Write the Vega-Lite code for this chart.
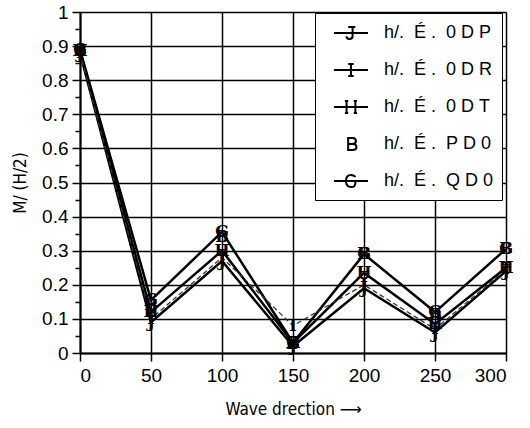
{
  "$schema": "https://vega.github.io/schema/vega-lite/v6.json",
  "autosize": "none",
  "width": 426,
  "height": 341,
  "padding": {"left": 80, "top": 12, "right": 24, "bottom": 75},
  "background": "white",
  "config": {
    "view": {"stroke": null},
    "axis": {
      "labelFont": "Liberation Sans, sans-serif",
      "labelFontSize": 19,
      "labelColor": "black",
      "domainColor": "black",
      "domainWidth": 2,
      "tickColor": "black",
      "tickWidth": 1.5,
      "tickSize": 8,
      "gridColor": "black",
      "gridWidth": 1.5,
      "gridOpacity": 1,
      "titleColor": "black",
      "titleFontWeight": "normal"
    }
  },
  "data": {
    "values": [
      {"series": "J", "x": 0, "y": 0.88}, {"series": "J", "x": 50, "y": 0.09}, {"series": "J", "x": 100, "y": 0.27}, {"series": "J", "x": 150, "y": 0.02}, {"series": "J", "x": 200, "y": 0.19}, {"series": "J", "x": 250, "y": 0.06}, {"series": "J", "x": 300, "y": 0.24},
      {"series": "I", "x": 0, "y": 0.88}, {"series": "I", "x": 50, "y": 0.10}, {"series": "I", "x": 100, "y": 0.28}, {"series": "I", "x": 150, "y": 0.08}, {"series": "I", "x": 200, "y": 0.20}, {"series": "I", "x": 250, "y": 0.07}, {"series": "I", "x": 300, "y": 0.245},
      {"series": "H", "x": 0, "y": 0.885}, {"series": "H", "x": 50, "y": 0.12}, {"series": "H", "x": 100, "y": 0.30}, {"series": "H", "x": 150, "y": 0.03}, {"series": "H", "x": 200, "y": 0.235}, {"series": "H", "x": 250, "y": 0.085}, {"series": "H", "x": 300, "y": 0.25},
      {"series": "B", "x": 0, "y": 0.885}, {"series": "B", "x": 50, "y": 0.14}, {"series": "B", "x": 100, "y": 0.34}, {"series": "B", "x": 150, "y": 0.025}, {"series": "B", "x": 200, "y": 0.29}, {"series": "B", "x": 250, "y": 0.11}, {"series": "B", "x": 300, "y": 0.305},
      {"series": "G", "x": 0, "y": 0.89}, {"series": "G", "x": 50, "y": 0.155}, {"series": "G", "x": 100, "y": 0.355}, {"series": "G", "x": 150, "y": 0.03}, {"series": "G", "x": 200, "y": 0.29}, {"series": "G", "x": 250, "y": 0.12}, {"series": "G", "x": 300, "y": 0.305}
    ]
  },
  "encoding": {
    "x": {
      "field": "x", "type": "quantitative",
      "scale": {"domain": [0, 300], "nice": false},
      "axis": {"values": [0, 50, 100, 150, 200, 250, 300], "labelPadding": 5, "title": "Wave drection  ⟶", "titleFont": "DejaVu Sans Condensed, DejaVu Sans, sans-serif", "titleFontSize": 17, "titlePadding": 16}
    },
    "y": {
      "field": "y", "type": "quantitative",
      "scale": {"domain": [0, 1], "nice": false},
      "axis": {
        "values": [0, 0.05, 0.1, 0.15, 0.2, 0.25, 0.3, 0.35, 0.4, 0.45, 0.5, 0.55, 0.6, 0.65, 0.7, 0.75, 0.8, 0.85, 0.9, 0.95, 1],
        "labelExpr": "abs(round(datum.value * 10) - datum.value * 10) < 0.01 ? format(datum.value, '.1~f') : ''",
        "tickSize": {"condition": {"test": "abs(round(datum.value * 10) - datum.value * 10) < 0.01", "value": 8}, "value": 5},
        "gridOpacity": {"condition": {"test": "abs(round(datum.value * 10) - datum.value * 10) < 0.01", "value": 1}, "value": 0},
        "labelPadding": 4,
        "title": "M/ (H/2)", "titleFont": "DejaVu Sans Condensed, DejaVu Sans, sans-serif", "titleFontSize": 17, "titlePadding": 12
      }
    }
  },
  "layer": [
    {
      "transform": [{"filter": "datum.series === 'J' || datum.series === 'H' || datum.series === 'G'"}],
      "mark": {"type": "line", "color": "black", "strokeWidth": 2.5},
      "encoding": {"detail": {"field": "series"}}
    },
    {
      "transform": [{"filter": "datum.series === 'I'"}],
      "mark": {"type": "line", "color": "#333333", "strokeWidth": 1.3, "strokeDash": [5, 3]},
      "encoding": {"detail": {"field": "series"}}
    },
    {
      "mark": {"type": "text", "font": "DejaVu Serif, serif", "fontWeight": "bold", "fontSize": 16, "baseline": "middle", "align": "center", "color": "black"},
      "encoding": {"text": {"field": "series"}}
    },
    {
      "mark": {"type": "point", "opacity": 0, "filled": false, "color": "black", "size": 484, "strokeWidth": 2},
      "encoding": {
        "shape": {
          "field": "series", "type": "nominal",
          "scale": {
            "domain": ["J", "I", "H", "B", "G"],
            "range": [
              "M-0.1,0H3M1.2,-0.55H1.85M1.6,-0.55V0.3Q1.6,0.55 1.3,0.55Q1.05,0.55 1.05,0.3",
              "M-0.1,0H3M1.2,-0.55H1.7M1.45,-0.55V0.55M1.2,0.55H1.7",
              "M-0.1,0H3M1.05,-0.55V0.55M1.85,-0.55V0.55M0.9,-0.55H1.2M1.7,-0.55H2M0.9,0.55H1.2M1.7,0.55H2",
              "M1.1,-0.55H1.6Q1.9,-0.55 1.9,-0.28Q1.9,0 1.6,0H1.2M1.6,0Q1.95,0 1.95,0.28Q1.95,0.55 1.6,0.55H1.1M1.2,-0.55V0.55",
              "M-0.1,0H3M1.85,-0.35Q1.75,-0.55 1.45,-0.55Q1.0,-0.55 1.0,0Q1.0,0.55 1.45,0.55Q1.85,0.55 1.85,0.2V0"
            ]
          },
          "legend": {
            "title": null,
            "orient": "none",
            "legendX": 235,
            "legendY": 1,
            "padding": 8,
            "fillColor": "white",
            "strokeColor": "black",
            "symbolSize": 484,
            "symbolStrokeWidth": 2,
            "symbolStrokeColor": "black",
            "symbolFillColor": "transparent",
            "symbolOpacity": 1,
            "labelFont": "Liberation Sans, sans-serif",
            "labelFontSize": 18,
            "labelColor": "black",
            "labelOffset": 37,
            "labelLimit": 114,
            "rowPadding": 14,
            "labelExpr": "({'J': 'h/.\u00a0\u00a0É\u00a0.\u00a0\u00a00\u00a0D\u00a0P', 'I': 'h/.\u00a0\u00a0É\u00a0.\u00a0\u00a00\u00a0D\u00a0R', 'H': 'h/.\u00a0\u00a0É\u00a0.\u00a0\u00a00\u00a0D\u00a0T', 'B': 'h/.\u00a0\u00a0É\u00a0.\u00a0\u00a0P\u00a0D\u00a00', 'G': 'h/.\u00a0\u00a0É\u00a0.\u00a0\u00a0Q\u00a0D\u00a00'})[datum.label]"
          }
        }
      }
    }
  ]
}
